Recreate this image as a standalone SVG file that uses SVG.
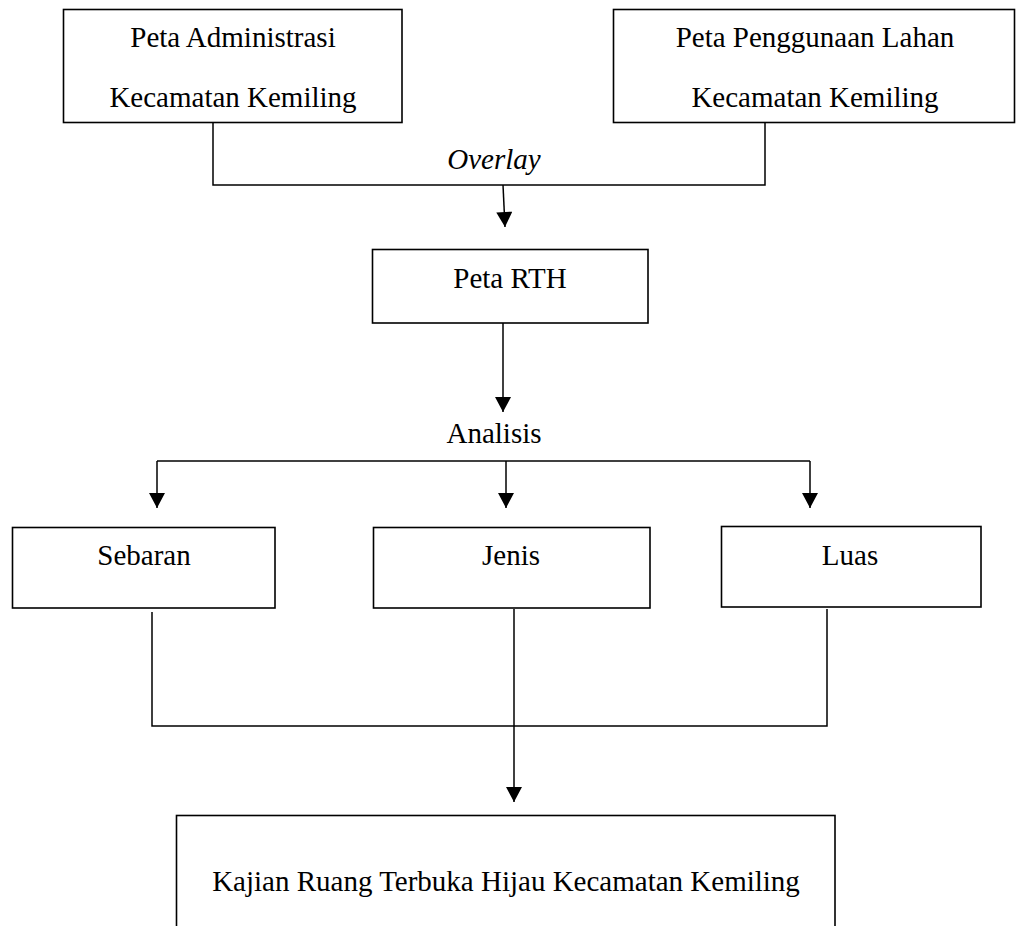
<svg xmlns="http://www.w3.org/2000/svg" width="1016" height="926" viewBox="0 0 1016 926">
  <style>
    .box { fill: #ffffff; stroke: #000000; stroke-width: 1.6; }
    .lbl { font-family: "Liberation Serif", "Times New Roman", serif; font-size: 29px; fill: #000000; text-anchor: middle; }
    .conn { fill: none; stroke: #000000; stroke-width: 1.5; }
  </style>
  <defs>
    <marker id="arrow" markerUnits="userSpaceOnUse" markerWidth="16" markerHeight="16" viewBox="0 0 15 16" refX="15" refY="8" orient="auto">
      <path d="M0,0 L15,8 L0,16 z" fill="#000000"/>
    </marker>
  </defs>
  <rect x="0" y="0" width="1016" height="926" fill="#ffffff"/>

  <g id="connectors">
    <polyline class="conn" points="213,122 213,185 765,185 765,122"/>
    <line class="conn" x1="503" y1="185" x2="505" y2="227" marker-end="url(#arrow)"/>
    <text class="lbl" x="494" y="169" font-style="italic" font-size="28">Overlay</text>
    <line class="conn" x1="503" y1="323" x2="503" y2="412" marker-end="url(#arrow)"/>
    <line class="conn" x1="157" y1="461" x2="810" y2="461"/>
    <line class="conn" x1="157" y1="461" x2="157" y2="508" marker-end="url(#arrow)"/>
    <line class="conn" x1="506" y1="461" x2="506" y2="508" marker-end="url(#arrow)"/>
    <line class="conn" x1="810" y1="461" x2="810" y2="508" marker-end="url(#arrow)"/>
    <polyline class="conn" points="152,612 152,726 827,726 827,609"/>
    <line class="conn" x1="514" y1="609" x2="514" y2="802" marker-end="url(#arrow)"/>
  </g>

  <g id="node-admin">
    <rect class="box" x="63.5" y="9.5" width="338.5" height="113"/>
    <text class="lbl" x="233" y="47">Peta Administrasi</text>
    <text class="lbl" x="233" y="107">Kecamatan Kemiling</text>
  </g>

  <g id="node-lahan">
    <rect class="box" x="613.5" y="9.5" width="401" height="113"/>
    <text class="lbl" x="815" y="47">Peta Penggunaan Lahan</text>
    <text class="lbl" x="815" y="107">Kecamatan Kemiling</text>
  </g>

  <g id="node-rth">
    <rect class="box" x="372.5" y="249.5" width="275.5" height="73.5"/>
    <text class="lbl" x="510" y="288">Peta RTH</text>
  </g>

  <g id="node-analisis">
    <text class="lbl" x="494" y="443" font-size="31">Analisis</text>
  </g>

  <g id="node-sebaran">
    <rect class="box" x="12.5" y="527.5" width="262.5" height="80.5"/>
    <text class="lbl" x="144" y="565">Sebaran</text>
  </g>

  <g id="node-jenis">
    <rect class="box" x="373.5" y="527.5" width="276.5" height="80.5"/>
    <text class="lbl" x="511" y="565">Jenis</text>
  </g>

  <g id="node-luas">
    <rect class="box" x="721.5" y="526.5" width="259.5" height="80.5"/>
    <text class="lbl" x="850" y="565">Luas</text>
  </g>

  <g id="node-kajian">
    <rect class="box" x="176.5" y="815.5" width="658.5" height="130"/>
    <text class="lbl" x="506" y="891">Kajian Ruang Terbuka Hijau Kecamatan Kemiling</text>
  </g>
</svg>
